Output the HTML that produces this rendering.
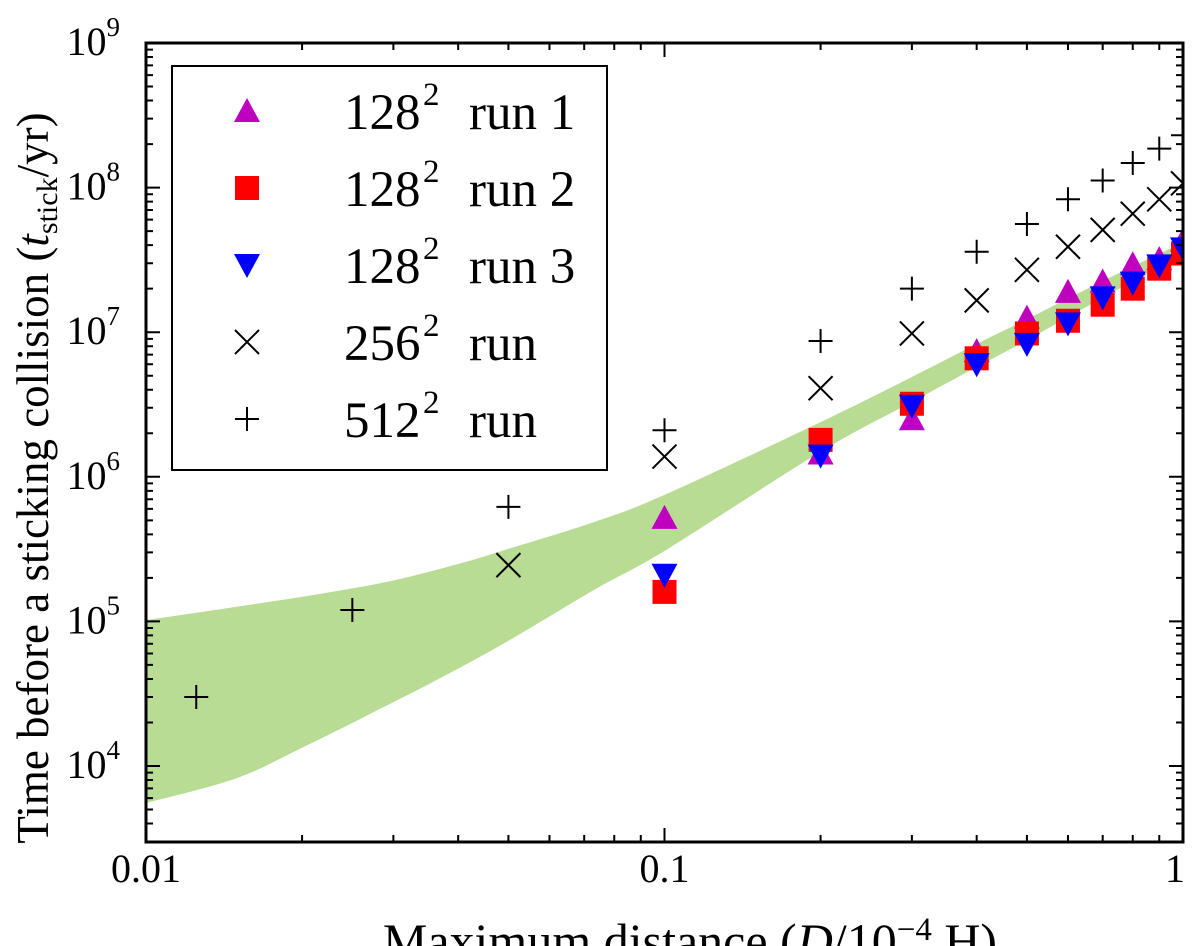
<!DOCTYPE html>
<html><head><meta charset="utf-8"><style>
body{margin:0;background:#fff}
svg{display:block;font-family:"Liberation Serif",serif}
</style></head><body>
<svg id="chart" width="1200" height="946" viewBox="0 0 1200 946" xmlns="http://www.w3.org/2000/svg">
<g id="band"></g>
<g id="marks"></g>
<rect x="146" y="43" width="1037" height="799" fill="none" stroke="#000" stroke-width="3"/>
<g id="ticks"></g>
<g id="labels" font-size="40"></g>
<text transform="translate(48,478) rotate(-90)" text-anchor="middle" font-size="45">Time before a sticking collision (<tspan font-style="italic">t</tspan><tspan font-size="30" dy="9">stick</tspan><tspan dy="-9">/yr)</tspan></text>
<text x="690" y="958" text-anchor="middle" font-size="50">Maximum distance (<tspan font-style="italic">D</tspan>/10<tspan font-size="33" dy="-18">−4</tspan><tspan dy="18"> H)</tspan></text>
<g>
<rect x="172" y="66" width="435" height="404" fill="#fff" stroke="#000" stroke-width="2"/>
<g id="legend"></g>
</g>
</svg>
<script>
const xs=[0.1,0.2,0.3,0.4,0.5,0.6,0.7,0.8,0.9,1.0];
const run1=[5.2e5,1.45e6,2.5e6,7.4e6,1.26e7,1.9e7,2.24e7,2.95e7,3.2e7,4.3e7];
const run2=[1.6e5,1.8e6,3.2e6,6.6e6,9.8e6,1.2e7,1.55e7,2.0e7,2.75e7,3.5e7];
const run3=[2.1e5,1.4e6,3.1e6,6.0e6,8.3e6,1.15e7,1.74e7,2.2e7,2.9e7,3.8e7];
const xs256=[0.05,0.1,0.2,0.3,0.4,0.5,0.6,0.7,0.8,0.9,1.0];
const run256=[2.45e5,1.38e6,4.1e6,9.8e6,1.66e7,2.7e7,3.9e7,5.1e7,6.6e7,8.3e7,1.07e8];
const xs512=[0.0125,0.025,0.05,0.1,0.2,0.3,0.4,0.5,0.6,0.7,0.8,0.9,1.0];
const run512=[3.0e4,1.2e5,6.2e5,2.1e6,8.7e6,2.0e7,3.6e7,5.6e7,8.3e7,1.12e8,1.48e8,1.86e8,2.3e8];
const bandXUpper=[0.01,0.0149,0.0221,0.0302,0.0407,0.0492,0.0731,0.1,0.2,0.3,0.4,0.5,0.7,0.957,1.0];
const bandUpper=[1.02e5,1.26e5,1.57e5,1.93e5,2.54e5,3.12e5,4.86e5,7.5e5,2.39e6,4.9e6,8.3e6,1.23e7,2.26e7,3.88e7,4.2e7];
const bandXLower=[0.01,0.0149,0.0201,0.0271,0.0364,0.0492,0.0731,0.1007,0.2,0.3,0.4,0.5,0.7,0.957,1.0];
const bandLower=[5.55e3,8.2e3,1.35e4,2.3e4,3.94e4,7.1e4,1.65e5,3.12e5,1.49e6,3.29e6,5.74e6,8.8e6,1.73e7,3.15e7,3.4e7];
const xTicks=[0.01,0.1,1];
const xTickLabels=["0.01","0.1","1"];
const yExps=[4,5,6,7,8,9];

const L=146,R=1183,T=43,B=842,DEC=144.6;
const sx=v=>L+(Math.log10(v)+2)/2*(R-L);
const sy=v=>T+(9-Math.log10(v))*DEC;
const NS="http://www.w3.org/2000/svg";
function mk(tag,parent,attrs){const e=document.createElementNS(NS,tag);for(const k in attrs)e.setAttribute(k,attrs[k]);parent.appendChild(e);return e;}

const band=document.getElementById('band');
function smooth(xsArr,ysArr,rev){
  const pts=xsArr.map((x,i)=>[sx(x),sy(ysArr[i])]);
  if(rev)pts.reverse();
  let d="";
  for(let i=0;i<pts.length;i++){
    if(i===0){d+="L"+pts[0][0]+","+pts[0][1];continue;}
    const p0=pts[Math.max(0,i-2)],p1=pts[i-1],p2=pts[i],p3=pts[Math.min(pts.length-1,i+1)];
    const c1=[p1[0]+(p2[0]-p0[0])/6,p1[1]+(p2[1]-p0[1])/6];
    const c2=[p2[0]-(p3[0]-p1[0])/6,p2[1]-(p3[1]-p1[1])/6];
    d+=`C${c1[0]},${c1[1]} ${c2[0]},${c2[1]} ${p2[0]},${p2[1]}`;
  }
  return d;
}
const bd="M"+smooth(bandXUpper,bandUpper,false).slice(1)+smooth(bandXLower,bandLower,true)+"Z";
const bclip=mk('clipPath',band,{id:'bc'});mk('rect',bclip,{x:L,y:T,width:R-L,height:B-T});
const bp=mk('path',band,{d:bd,fill:"#b9dc94",'clip-path':'url(#bc)'});



const marks=document.getElementById('marks');
function marker(g,type,cx,cy){
  let e;
  if(type==='up'){e=mk('polygon',g,{points:`${cx-13},${cy+11} ${cx+13},${cy+11} ${cx},${cy-13}`,fill:"#bf00bf"});}
  else if(type==='sq'){e=mk('rect',g,{x:cx-12,y:cy-12,width:24,height:24,fill:"#ff0000"});}
  else if(type==='down'){e=mk('polygon',g,{points:`${cx-13},${cy-11} ${cx+13},${cy-11} ${cx},${cy+13}`,fill:"#0000ff"});}
  else if(type==='x'){e=mk('path',g,{d:`M${cx-12},${cy-12}L${cx+12},${cy+12}M${cx-12},${cy+12}L${cx+12},${cy-12}`,stroke:"#000","stroke-width":2,fill:"none"});}
  else {e=mk('path',g,{d:`M${cx-12},${cy}L${cx+12},${cy}M${cx},${cy-12}L${cx},${cy+12}`,stroke:"#000","stroke-width":2,fill:"none"});}
  return e;
}
const clip=mk('clipPath',marks,{id:'pc'});mk('rect',clip,{x:L,y:T,width:R-L,height:B-T});
const mg=mk('g',marks,{'clip-path':'url(#pc)'});
const series=[[xs512,run512,'plus','series-512'],[xs256,run256,'x','series-256'],[xs,run1,'up','series-128-run1'],[xs,run2,'sq','series-128-run2'],[xs,run3,'down','series-128-run3']];
series.forEach(s=>{
  const g=mk('g',mg,{});
  
  
  s[0].forEach((x,i)=>{const m=marker(g,s[2],sx(x),sy(s[1][i]));
    
    });
});

const tk=document.getElementById('ticks');
let td="";
for(let e=-2;e<0;e++)for(let k=1;k<10;k++){const x=sx(k*Math.pow(10,e));const len=k===1?14:7;td+=`M${x},${B}v${-len}M${x},${T}v${len}`;}
td+=`M${R},${B}v-14M${R},${T}v14`;
for(let e=3;e<9;e++)for(let k=1;k<10;k++){const y=sy(k*Math.pow(10,e));if(y>B)continue;const len=k===1?14:7;td+=`M${L},${y}h${len}M${R},${y}h${-len}`;}
const tp=mk('path',tk,{d:td,stroke:"#000","stroke-width":2});



const lab=document.getElementById('labels');
xTicks.forEach((v,i)=>{const t=mk('text',lab,{x:sx(v)-(i===2?8:0),y:B+40,'text-anchor':'middle'});t.textContent=xTickLabels[i];
  
  });
yExps.forEach(e=>{const t=mk('text',lab,{x:L-26,y:sy(Math.pow(10,e))+12,'text-anchor':'end'});
  t.innerHTML=`10<tspan font-size="27" dy="-19">${e}</tspan>`;
  
  });

const lg=document.getElementById('legend');
const entries=[['up','128','run 1'],['sq','128','run 2'],['down','128','run 3'],['x','256','run'],['plus','512','run']];
entries.forEach((en,i)=>{
  const g=mk('g',lg,{});
  
  
  const cy=111+i*77;
  marker(g,en[0],247,cy);
  const t=mk('text',g,{x:344,y:cy+18,'font-size':51});
  t.textContent=en[1];
  const s=mk('text',g,{x:423,y:cy-6,'font-size':33});
  s.textContent='2';
  const r=mk('text',g,{x:469,y:cy+18,'font-size':51});
  r.textContent=en[2];
});
</script>
</body></html>
